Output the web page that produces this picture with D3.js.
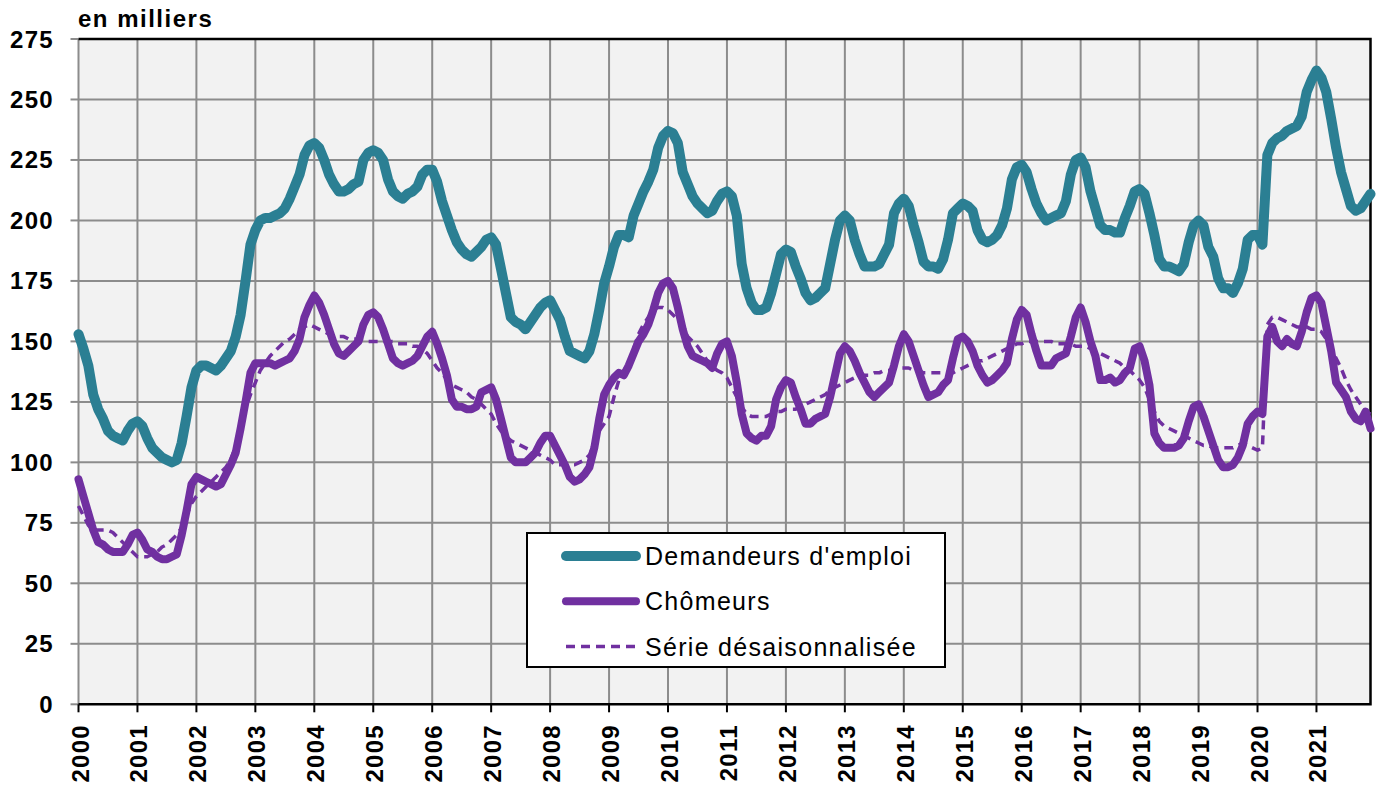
<!DOCTYPE html>
<html>
<head>
<meta charset="utf-8">
<script src="https://cdn.jsdelivr.net/npm/d3@7"></script>
<style>
body { margin: 0; background: #fff; }
text { font-family: "Liberation Sans", Arial, sans-serif; }
</style>
</head>
<body>
<script>
// années (un point par mois, janvier 2000 -> décembre 2021)
var years = d3.range(2000, 2022)
var yTicks = [0, 25, 50, 75, 100, 125, 150, 175, 200, 225, 250, 275]

var demandeurs = [
  153, 147, 140, 128, 122, 118, 113, 111, 110, 109, 113, 116, // 2000
  117, 115, 110, 106, 104, 102, 101, 100, 101, 108, 119, 131, // 2001
  138, 140, 140, 139, 138, 140, 143, 146, 152, 161, 175, 190, // 2002
  196, 200, 201, 201, 202, 203, 205, 209, 214, 219, 227, 231, // 2003
  232, 230, 225, 219, 215, 212, 212, 213, 215, 216, 225, 228, // 2004
  229, 228, 225, 217, 212, 210, 209, 211, 212, 214, 219, 221, // 2005
  221, 216, 208, 202, 196, 191, 188, 186, 185, 187, 189, 192, // 2006
  193, 190, 180, 170, 160, 158, 157, 155, 158, 161, 164, 166, // 2007
  167, 163, 159, 152, 146, 145, 144, 143, 146, 153, 163, 174, // 2008
  181, 189, 194, 194, 193, 202, 207, 212, 216, 221, 230, 235, // 2009
  237, 236, 232, 220, 215, 210, 207, 205, 203, 204, 208, 211, // 2010
  212, 210, 202, 182, 172, 166, 163, 163, 164, 170, 178, 186, // 2011
  188, 187, 181, 176, 170, 167, 168, 170, 172, 182, 192, 200, // 2012
  202, 200, 192, 186, 181, 181, 181, 182, 186, 190, 203, 207, // 2013
  209, 206, 198, 191, 183, 181, 181, 180, 184, 192, 203, 205, // 2014
  207, 206, 204, 196, 192, 191, 192, 194, 198, 205, 217, 222, // 2015
  223, 220, 213, 207, 203, 200, 201, 202, 203, 208, 219, 225, // 2016
  226, 222, 212, 205, 198, 196, 196, 195, 195, 201, 206, 212, // 2017
  213, 211, 203, 194, 184, 181, 181, 180, 179, 182, 191, 198, // 2018
  200, 198, 189, 185, 176, 172, 172, 170, 174, 180, 192, 194, // 2019
  194, 190, 227, 232, 234, 235, 237, 238, 239, 243, 253, 258, // 2020
  262, 259, 253, 242, 230, 220, 213, 206, 204, 205, 208, 211  // 2021
]

var chomeurs = [
  93, 86, 79, 72, 67, 66, 64, 63, 63, 63, 66, 70,
  71, 68, 64, 63, 61, 60, 60, 61, 62, 70, 80, 91,
  94, 93, 92, 91, 90, 91, 95, 99, 104, 114, 125, 137,
  141, 141, 141, 141, 140, 141, 142, 143, 146, 151, 160, 165,
  169, 166, 161, 155, 149, 145, 144, 146, 148, 150, 157, 161,
  162, 160, 155, 149, 143, 141, 140, 141, 142, 144, 148, 152,
  154, 149, 143, 136, 126, 123, 123, 122, 122, 123, 129, 130,
  131, 126, 118, 110, 102, 100, 100, 100, 102, 104, 108, 111,
  111, 107, 103, 99, 94, 92, 93, 95, 98, 106, 118, 128,
  132, 135, 137, 136, 140, 145, 150, 153, 157, 163, 170, 174,
  175, 172, 164, 155, 148, 144, 143, 142, 141, 139, 145, 149,
  150, 144, 133, 120, 112, 110, 109, 111, 111, 115, 126, 131,
  134, 133, 127, 122, 116, 116, 118, 119, 120, 127, 136, 145,
  148, 146, 142, 137, 133, 129, 127, 129, 131, 133, 140, 148,
  153, 150, 144, 138, 132, 127, 128, 129, 132, 134, 143, 151,
  152, 150, 146, 140, 136, 133, 134, 136, 138, 141, 151, 159,
  163, 161, 153, 146, 140, 140, 140, 143, 144, 145, 152, 160,
  164, 158, 150, 144, 134, 134, 135, 133, 134, 137, 139, 147,
  148, 142, 132, 112, 108, 106, 106, 106, 107, 110, 117, 123,
  124, 119, 113, 107, 101, 98, 98, 99, 102, 107, 116, 119,
  121, 120, 152, 156, 150, 148, 151, 149, 148, 154, 162, 168,
  169, 166, 156, 146, 133, 130, 127, 121, 118, 117, 121, 114
]

var serieCvs = [
  82, 78, 74, 72, 72, 72, 72, 71, 69, 67, 65, 63,
  61, 61, 61, 62, 63, 65, 66, 68, 70, 73, 78, 83,
  86, 88, 90, 92, 94, 96, 98, 101, 107, 114, 122, 128,
  133, 138, 141, 144, 146, 148, 150, 151, 153, 155, 156, 157,
  156, 155, 154, 153, 152, 152, 152, 151, 151, 151, 151, 150,
  150, 150, 150, 150, 150, 149, 149, 149, 148, 148, 147, 145,
  142, 139, 137, 134, 132, 131, 130, 129, 127, 126, 124, 122,
  120, 116, 113, 111, 109, 108, 107, 106, 105, 104, 103, 102,
  101, 99, 99, 99, 99, 99, 100, 101, 103, 108, 113, 116,
  119, 127, 134, 138, 141, 147, 153, 157, 160, 163, 164, 164,
  163, 161, 159, 156, 152, 150, 148, 145, 142, 140, 138, 137,
  135, 131, 127, 123, 120, 119, 119, 119, 119, 120, 121, 121,
  122, 122, 122, 123, 124, 125, 126, 127, 128, 130, 131, 132,
  133, 134, 135, 135, 136, 136, 137, 137, 138, 138, 139, 139,
  139, 139, 138, 138, 137, 137, 137, 137, 137, 137, 137, 138,
  139, 140, 141, 142, 142, 143, 144, 145, 146, 147, 148, 149,
  149, 150, 150, 150, 150, 150, 150, 149, 149, 149, 149, 148,
  148, 148, 147, 146, 145, 144, 143, 142, 141, 139, 138, 136,
  134, 131, 126, 121, 117, 115, 114, 113, 112, 111, 110, 109,
  108, 107, 107, 106, 106, 106, 106, 106, 107, 108, 107, 106,
  105, 106, 157, 160, 160, 159, 158, 157, 156, 156, 156, 155,
  155, 154, 151, 147, 143, 139, 134, 130, 127, 124, 121, 120
]

var legendLabels = ["Demandeurs d'emploi", "Chômeurs", "Série désaisonnalisée"]

const w = 1379
const h = 790
const plotL = 78.5, plotR = 1370.5, plotT = 39, plotB = 704.3

const teal = "#2b7f93"
const purple = "#7030a0"
const grid = "#8c8c8c"

const svg = d3.select("body")
  .append("svg")
  .attr("width", w)
  .attr("height", h)

const x = d3.scaleLinear().domain([0, demandeurs.length - 1]).range([plotL, plotR])
const y = d3.scaleLinear().domain([0, 275]).range([plotB, plotT])

// fond de la zone de tracé
svg.append("rect")
  .attr("x", plotL).attr("y", plotT)
  .attr("width", plotR - plotL).attr("height", plotB - plotT)
  .attr("fill", "#f2f2f2")

// quadrillage horizontal
svg.selectAll(".hgrid")
  .data(yTicks.filter(d => d > 0 && d < 275))
  .enter()
  .append("line")
  .attr("x1", plotL).attr("x2", plotR)
  .attr("y1", d => y(d)).attr("y2", d => y(d))
  .attr("stroke", grid)
  .attr("stroke-width", 2)

// quadrillage vertical (un trait par janvier)
svg.selectAll(".vgrid")
  .data(years)
  .enter()
  .append("line")
  .attr("x1", (d, i) => x(i * 12)).attr("x2", (d, i) => x(i * 12))
  .attr("y1", plotT).attr("y2", plotB)
  .attr("stroke", grid)
  .attr("stroke-width", 2)

// graduations de l'axe vertical
svg.selectAll(".ytick")
  .data(yTicks)
  .enter()
  .append("line")
  .attr("x1", plotL - 8).attr("x2", plotL)
  .attr("y1", d => y(d)).attr("y2", d => y(d))
  .attr("stroke", grid)
  .attr("stroke-width", 2)

svg.selectAll(".ylab")
  .data(yTicks)
  .enter()
  .append("text")
  .attr("x", 54)
  .attr("y", d => y(d) + 8.5)
  .attr("text-anchor", "end")
  .style("font-size", "24px")
  .style("font-weight", "bold")
  .style("letter-spacing", "1.3px")
  .text(d => d)

// cadre noir haut / droite / bas
svg.append("path")
  .attr("d", "M" + plotL + "," + plotT + "H" + plotR + "V" + plotB + "H" + plotL)
  .attr("fill", "none")
  .attr("stroke", "#000")
  .attr("stroke-width", 2.5)

// graduations de l'axe horizontal
svg.selectAll(".xtick")
  .data(years)
  .enter()
  .append("line")
  .attr("x1", (d, i) => x(i * 12)).attr("x2", (d, i) => x(i * 12))
  .attr("y1", plotB).attr("y2", plotB + 8)
  .attr("stroke", "#000")
  .attr("stroke-width", 2)

svg.selectAll(".xlab")
  .data(years)
  .enter()
  .append("text")
  .attr("transform", (d, i) => "translate(" + (x(i * 12) + 10) + "," + 724 + ") rotate(-90)")
  .attr("text-anchor", "end")
  .style("font-size", "24px")
  .style("font-weight", "bold")
  .style("letter-spacing", "1.3px")
  .text(d => d)

svg.append("text")
  .attr("x", 78)
  .attr("y", 27)
  .style("font-size", "24px")
  .style("font-weight", "bold")
  .style("letter-spacing", "1.5px")
  .text("en milliers")

// courbes
const line = d3.line()
  .x((d, i) => x(i))
  .y(d => y(d))

svg.append("path")
  .datum(demandeurs)
  .attr("d", line)
  .attr("fill", "none")
  .attr("stroke", teal)
  .attr("stroke-width", 10)
  .attr("stroke-linejoin", "round")
  .attr("stroke-linecap", "round")

svg.append("path")
  .datum(chomeurs)
  .attr("d", line)
  .attr("fill", "none")
  .attr("stroke", purple)
  .attr("stroke-width", 8)
  .attr("stroke-linejoin", "round")
  .attr("stroke-linecap", "round")

svg.append("path")
  .datum(serieCvs)
  .attr("d", line)
  .attr("fill", "none")
  .attr("stroke", purple)
  .attr("stroke-width", 3.5)
  .attr("stroke-dasharray", "9,6")
  .attr("stroke-linejoin", "round")

// légende
const legend = svg.append("g")

legend.append("rect")
  .attr("x", 527).attr("y", 533)
  .attr("width", 418).attr("height", 134)
  .attr("fill", "#fff")
  .attr("stroke", "#000")
  .attr("stroke-width", 2)

const legStyles = [
  {color: teal, width: 10, dash: null},
  {color: purple, width: 8, dash: null},
  {color: purple, width: 3.5, dash: "9,6"}
]

legend.selectAll(".legline")
  .data(legendLabels)
  .enter()
  .append("line")
  .attr("x1", 566).attr("x2", 636)
  .attr("y1", (d, i) => 556 + i * 45.3)
  .attr("y2", (d, i) => 556 + i * 45.3)
  .attr("stroke", (d, i) => legStyles[i].color)
  .attr("stroke-width", (d, i) => legStyles[i].width)
  .attr("stroke-linecap", (d, i) => legStyles[i].dash ? "butt" : "round")
  .attr("stroke-dasharray", (d, i) => legStyles[i].dash)

legend.selectAll(".legtext")
  .data(legendLabels)
  .enter()
  .append("text")
  .attr("x", 645)
  .attr("y", (d, i) => 565 + i * 45.3)
  .style("font-size", "25px")
  .style("letter-spacing", "1.3px")
  .text(d => d)
</script>
</body>
</html>
